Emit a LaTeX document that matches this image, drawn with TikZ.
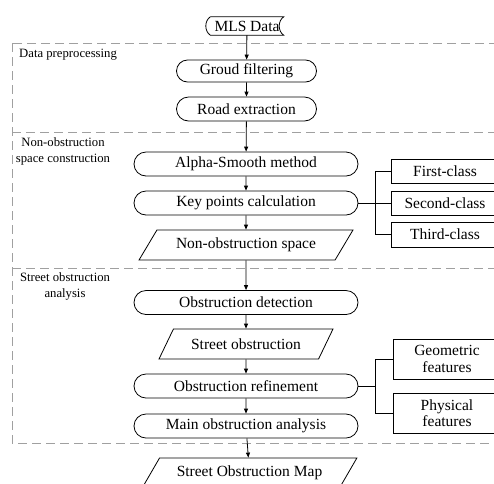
\documentclass[tikz,border=0pt]{standalone}
\usepackage{fontspec}
\setmainfont{Liberation Serif}
\usepackage{tikz}
\usetikzlibrary{shapes.misc,shapes.geometric,positioning,calc,arrows.meta}
\definecolor{dashgray}{HTML}{A0A0A0}

\newcommand{\boxfont}{\rmfamily\fontsize{15.5}{16.5}\selectfont}
\newcommand{\labelfont}{\rmfamily\fontsize{12.7}{16}\selectfont}
\tikzset{
  proc/.style={rounded rectangle, draw, line width=0.8pt, minimum width=224, minimum height=24, inner sep=0pt, font=\boxfont},
  io/.style={trapezium, trapezium left angle=45, trapezium right angle=135, trapezium stretches, draw, line width=0.8pt, minimum height=30, inner sep=0pt, font=\boxfont},
  cls/.style={rectangle, draw, line width=0.8pt, minimum width=108, inner sep=0pt, align=center, font=\boxfont},
  lbl/.style={align=center, inner sep=0pt, font=\labelfont},
  flow/.style={line width=0.8pt, -{Triangle[length=5pt,width=4pt]}},
  link/.style={line width=0.8pt},
  sect/.style={dashgray, line width=0.9pt, dash pattern=on 9pt off 5pt},
}

\begin{document}
\begin{tikzpicture}[x=1pt, y=-1pt]
  \useasboundingbox (0,0) rectangle (494,483);
  \clip (0,0) rectangle (494,483);

  % Section frames
  \draw[sect] (12,43) rectangle (520,443);
  \draw[sect] (12,132) -- (520,132);
  \draw[sect] (12,268) -- (520,268);
  \node[lbl, anchor=west] (lpre) at (19,55) {Data preprocessing};
  \node[lbl] (lnos) at (63,151.5) {Non-obstruction\\space construction};
  \node[lbl] (lsoa) at (65,286) {Street obstruction\\analysis};

  % Main flow
  \node[inner sep=0pt, minimum width=73, minimum height=18, font=\boxfont] (mls) at (247,26) {MLS Data};
  \draw[line width=0.8pt] (mls.north west) -- (mls.north east)
    .. controls +(-6,4) and +(-6,-4) .. (mls.south east) -- (mls.south west)
    .. controls +(-6,-4) and +(-6,4) .. (mls.north west);
  \node[proc, minimum width=140, minimum height=22] (gf) at (246.5,71) {Groud filtering};
  \node[proc, minimum width=140] (re) at (246.5,109) {Road extraction};
  \node[proc] (as) at (246,164) {Alpha-Smooth method};
  \node[proc] (kp) at (246,203) {Key points calculation};
  \node[io, minimum width=214] (nos) at (246,245) {Non-obstruction space};
  \node[proc] (od) at (246,302.5) {Obstruction detection};
  \node[io, minimum width=174] (so) at (246,344) {Street obstruction};
  \node[proc] (or) at (246,386) {Obstruction refinement};
  \node[proc] (ma) at (246,426) {Main obstruction analysis};
  \node[io, minimum width=215] (map) at (249.5,473) {Street Obstruction Map};

  % Classes and features
  \node[cls, minimum height=24] (fc) at (445,171) {First-class};
  \node[cls, minimum height=24] (sc) at (445,203) {Second-class};
  \node[cls, minimum height=25] (tc) at (445,234.5) {Third-class};
  \node[cls, minimum height=40] (geo) at (447,359) {Geometric\\features};
  \node[cls, minimum height=40] (phy) at (447,413) {Physical\\features};

  % Arrows
  \draw[flow] (mls) -- (gf);
  \draw[flow] (gf) -- (re);
  \draw[flow] (re) -- (as);
  \draw[flow] (as) -- (kp);
  \draw[flow] (kp) -- (nos);
  \draw[flow] (nos) -- (od);
  \draw[flow] (od) -- (so);
  \draw[flow] (so) -- (or);
  \draw[flow] (or) -- (ma);
  \draw[flow] (ma) -- (map);

  % Branches
  \draw[link] (kp.east) -- ++(17,0) coordinate (jk);
  \draw[link] (fc.west) -| (jk) |- (tc.west);
  \draw[link] (jk) -- (sc.west);
  \draw[link] (or.east) -- ++(17,0) coordinate (jr);
  \draw[link] (geo.west) -| (jr) |- (phy.west);
\end{tikzpicture}
\end{document}
